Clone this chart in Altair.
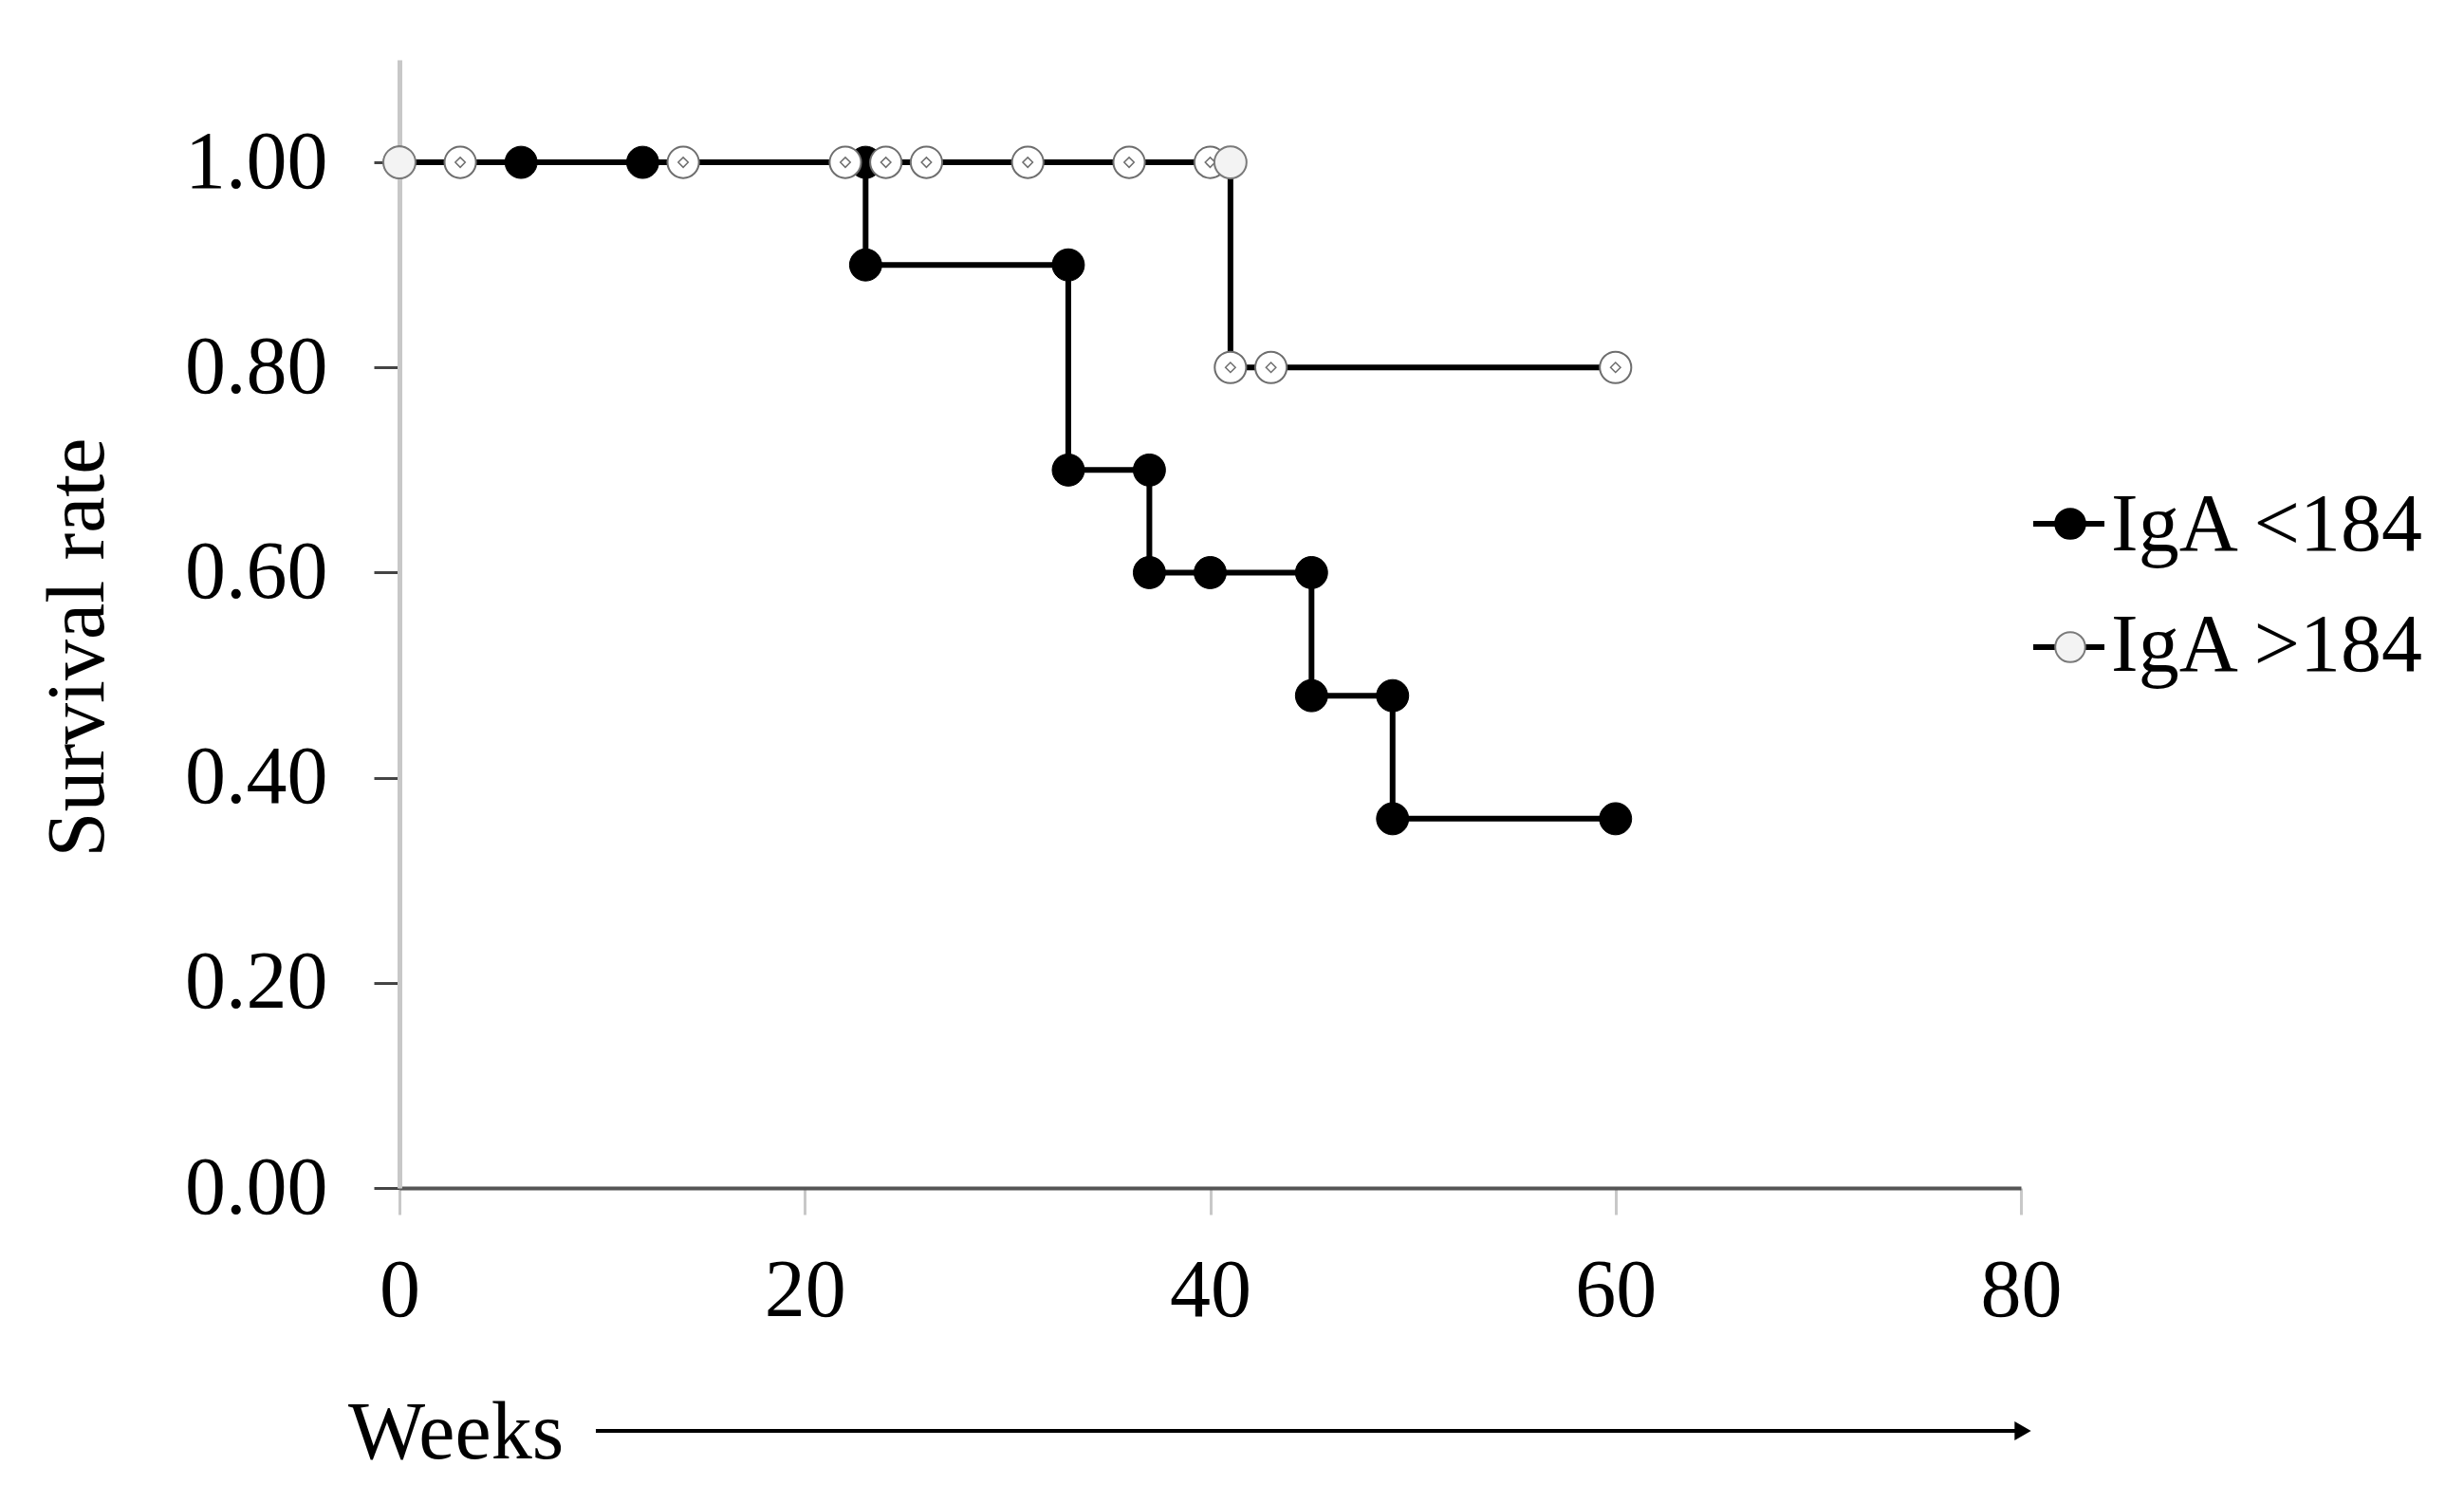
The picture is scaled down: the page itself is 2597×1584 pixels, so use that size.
import altair as alt
import pandas as pd

# ---- data ----
low_step_weeks = [0, 23, 33, 37, 45, 49, 60]
low_step_surv = [1.00, 0.90, 0.70, 0.60, 0.48, 0.36, 0.36]

high_step_weeks = [0, 41, 60]
high_step_surv = [1.00, 0.80, 0.80]

low_mark_weeks = [0, 6, 12, 23, 23, 33, 33, 37, 37, 40, 45, 45, 49, 49, 60]
low_mark_surv = [1.00, 1.00, 1.00, 1.00, 0.90, 0.90, 0.70, 0.70, 0.60, 0.60, 0.60, 0.48, 0.48, 0.36, 0.36]

high_plain_weeks = [0, 41]
high_plain_surv = [1.00, 1.00]

high_cens_weeks = [3, 14, 22, 24, 26, 31, 36, 40, 41, 43, 60]
high_cens_surv = [1.00, 1.00, 1.00, 1.00, 1.00, 1.00, 1.00, 1.00, 0.80, 0.80, 0.80]

x_ticks = [0, 20, 40, 60, 80]
y_ticks = [0.0, 0.2, 0.4, 0.6, 0.8, 1.0]
legend_labels = ["IgA <184", "IgA >184"]
x_title = ["Weeks"]
y_title = "Survival rate"

FONT = "Liberation Serif"
FS = 86
W, H = 1709, 1189


def frame(weeks, surv):
    return pd.DataFrame({"week": weeks, "surv": surv})


x_enc = alt.X(
    "week:Q",
    scale=alt.Scale(domain=[0, 80], nice=False, zero=False),
    axis=alt.Axis(
        values=x_ticks, title=None, grid=False,
        domainColor="#555555", domainWidth=4,
        tickColor="#c8c8c8", tickWidth=3, tickSize=28,
        labelFont=FONT, labelFontSize=FS, labelColor="black",
        labelBaseline="alphabetic", labelPadding=106, labelFlush=False,
    ),
)
y_enc = alt.Y(
    "surv:Q",
    scale=alt.Scale(domain=[0, 1.1], nice=False),
    axis=alt.Axis(
        values=y_ticks, format=".2f", title=y_title, grid=False,
        domainColor="#c8c8c8", domainWidth=5,
        tickColor="#444444", tickWidth=3, tickSize=27,
        labelFont=FONT, labelFontSize=FS, labelColor="black",
        labelPadding=49, labelFlush=False,
        titleFont=FONT, titleFontSize=FS, titleFontWeight="normal", titleColor="black",
        titleAngle=270, titleX=-313, titleY=619, titleAlign="center", titleBaseline="alphabetic",
    ),
)

low_line = alt.Chart(frame(low_step_weeks, low_step_surv)).mark_line(
    interpolate="step-after", color="black", strokeWidth=6
).encode(x=x_enc, y=y_enc)

low_pts = alt.Chart(frame(low_mark_weeks, low_mark_surv)).mark_point(
    shape="circle", filled=True, fill="black", stroke="black", strokeWidth=1, size=1150, opacity=1
).encode(x=x_enc, y=y_enc)

high_line = alt.Chart(frame(high_step_weeks, high_step_surv)).mark_line(
    interpolate="step-after", color="black", strokeWidth=6
).encode(x=x_enc, y=y_enc)

high_cens = alt.Chart(frame(high_cens_weeks, high_cens_surv)).mark_point(
    shape="circle", filled=True, fill="white", stroke="#6e6e6e", strokeWidth=2, size=1100, opacity=1
).encode(x=x_enc, y=y_enc)

high_diam = alt.Chart(frame(high_cens_weeks, high_cens_surv)).mark_point(
    shape="diamond", filled=True, fill="white", stroke="#6e6e6e", strokeWidth=1.5, size=110, opacity=1
).encode(x=x_enc, y=y_enc)

high_plain = alt.Chart(frame(high_plain_weeks, high_plain_surv)).mark_point(
    shape="circle", filled=True, fill="#f3f3f3", stroke="#7a7a7a", strokeWidth=2, size=1150, opacity=1
).encode(x=x_enc, y=y_enc)

# ---- annotations: Weeks label with arrow, and legend ----
weeks_df = pd.DataFrame({"label": x_title})
weeks_text = alt.Chart(weeks_df).mark_text(
    font=FONT, fontSize=FS, color="black", align="left", baseline="alphabetic"
).encode(x=alt.value(-54), y=alt.value(1474), text="label:N")

arrow_line = alt.Chart(weeks_df).mark_rule(color="black", strokeWidth=4).encode(
    x=alt.value(207), x2=alt.value(1703), y=alt.value(1445)
)
arrow_head = alt.Chart(weeks_df).mark_point(
    shape="triangle-right", filled=True, color="black", size=400, opacity=1
).encode(x=alt.value(1711), y=alt.value(1445))

leg_layers = []
leg_rows = [(489, 517, "black", "black"), (619, 644, "#f3f3f3", "#7a7a7a")]
for label, (ly, by, fill, stroke) in zip(legend_labels, leg_rows):
    d = pd.DataFrame({"label": [label]})
    leg_layers.append(
        alt.Chart(d).mark_rule(color="black", strokeWidth=6).encode(
            x=alt.value(1722), x2=alt.value(1797), y=alt.value(ly)
        )
    )
    leg_layers.append(
        alt.Chart(d).mark_point(
            shape="circle", filled=True, fill=fill, stroke=stroke, strokeWidth=2, size=1000, opacity=1
        ).encode(x=alt.value(1761), y=alt.value(ly))
    )
    leg_layers.append(
        alt.Chart(d).mark_text(
            font=FONT, fontSize=FS, color="black", align="left", baseline="alphabetic"
        ).encode(x=alt.value(1804), y=alt.value(by), text="label:N")
    )

chart = alt.layer(
    low_line, low_pts, high_line, high_cens, high_diam, high_plain,
    weeks_text, arrow_line, arrow_head, *leg_layers
).properties(
    width=W, height=H,
    autosize=alt.AutoSizeParams(type="none"),
    padding={"left": 413, "top": 55, "right": 440, "bottom": 322},
    background="white",
).configure_view(stroke=None)

chart.save("out.html", embed_options={"renderer": "svg", "actions": False})
